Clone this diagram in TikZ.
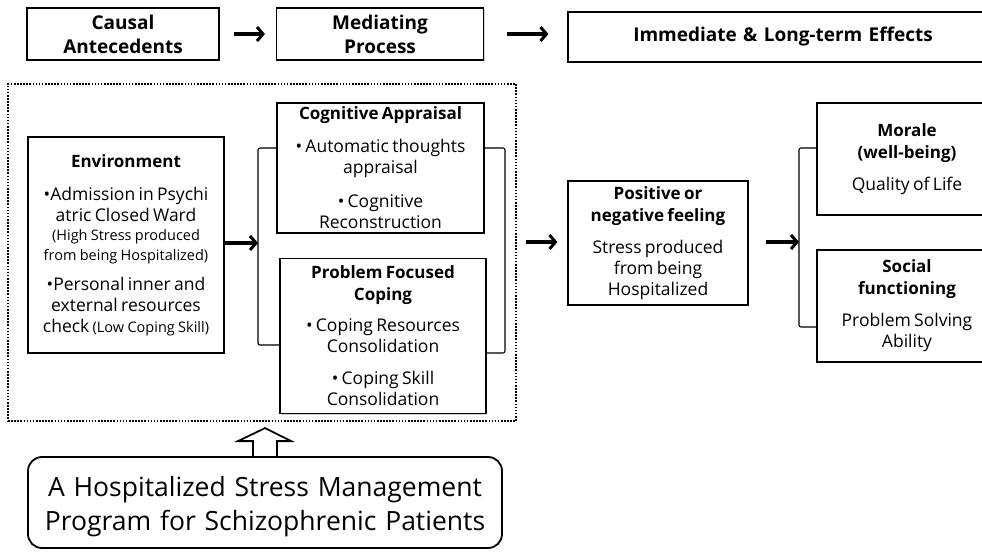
\documentclass[tikz,border=0pt]{standalone}
\usepackage{fontspec}
\setmainfont{Open Sans}
\usetikzlibrary{positioning}
\usetikzlibrary{arrows.meta}
\usetikzlibrary{shadows}
\usetikzlibrary{calc}
\setlength{\parindent}{0pt}

\newcommand{\headtxt}{\fontsize{19}{24}\bfseries\selectfont}
\newcommand{\titletxt}{\fontsize{17}{22}\bfseries\selectfont}
\newcommand{\bodytxt}{\fontsize{17.5}{21}\mdseries\selectfont}
\newcommand{\smalltxt}{\fontsize{14.5}{19.5}\mdseries\selectfont}
\newcommand{\progtxt}{\fontsize{26.5}{34}\selectfont\spaceskip=0.42em plus 0.1em}
\newcommand{\gap}[1]{\par\vspace{#1}}

\begin{document}
\begin{tikzpicture}[x=1pt, y=-1pt,
	box/.style={rectangle,draw,line width=1.1pt,fill=white,inner sep=2pt,align=center,
		drop shadow={shadow xshift=1.4pt,shadow yshift=-1.4pt,opacity=0.35}},
	arr/.style={line width=3.4pt,-{Straight Barb[length=6pt,width=14pt,line width=3pt]}},
	bracket/.style={line width=1.1pt,rounded corners=2pt}
	]
	\useasboundingbox (0,0) rectangle (982,553);

	% top row
	\node [box,text width=188pt,minimum height=52pt,font=\headtxt] (cause)	at (123,34)	{Causal\\ Antecedents};
	\node [box,text width=203pt,minimum height=52pt,font=\headtxt] (mediate)	at (380,34)	{Mediating\\ Process};
	\node [box,text width=426pt,minimum height=50pt,font=\headtxt] (effects)	at (783,37)	{Immediate \& Long-term Effects};

	% program frame
	\node [draw,line width=1.6pt,dash pattern=on 1.6pt off 1.5pt,inner sep=0pt,
		minimum width=508pt,minimum height=337pt] (frame) at (262,252.5) {};

	\node [box,text width=192pt,minimum height=216pt] (env) at (126,245)
		{\titletxt Environment\gap{12pt}\bodytxt •Admission in Psychi\\ atric Closed Ward\par
		\smalltxt (High Stress produced\\ from being Hospitalized)\gap{9pt}
		\bodytxt •Personal inner and\\ external resources\\ check {\smalltxt(Low Coping Skill)}\par};
	\node [box,text width=203pt,minimum height=130pt] (cog) at (380.5,168)
		{\titletxt Cognitive Appraisal\gap{12pt}\bodytxt • Automatic thoughts\\ appraisal\gap{13pt}
		• Cognitive\\ Reconstruction\par};
	\node [box,text width=202pt,minimum height=155pt] (cope) at (383,336)
		{\titletxt Problem Focused\\ Coping\gap{10pt}\bodytxt • Coping Resources\\ Consolidation\gap{11pt}
		• Coping Skill\\ Consolidation\par};

	% effects
	\node [box,text width=176pt,minimum height=124pt] (pos) at (658,243)
		{\titletxt Positive or\\ negative feeling\gap{11pt}\bodytxt Stress produced\\ from being\\ Hospitalized\par};
	\node [box,text width=176pt,minimum height=112pt] (morale) at (907,159)
		{\titletxt Morale\\ (well-being)\gap{11pt}\bodytxt Quality of Life\par};
	\node [box,text width=176pt,minimum height=112pt] (social) at (907,306)
		{\titletxt Social\\ functioning\gap{11pt}\bodytxt Problem Solving\\ Ability\par};

	% program
	\node [draw,line width=1.8pt,rounded corners=14pt,minimum width=474pt,minimum height=91pt] (prog) at (265,502.5) {};
	\node [text width=466pt,align=center,font=\progtxt] (progtext) at ([yshift=-4pt]prog.center)
		{A Hospitalized Stress Management\\ Program for Schizophrenic Patients\par};

	\coordinate (joinL) at (258,243);
	\coordinate (joinM) at (505,243);
	\coordinate (joinR) at (799,242);

	\draw [arr] ($(cause.east)+(14,0)$) to ($(mediate.west)+(-11,0)$);
	\draw [arr] ($(mediate.east)+(23,0)$) to ($(mediate.east -| effects.west)+(-19,0)$);

	\draw [bracket] ([yshift=20pt]cog.west) -| (joinL) |- ([yshift=-9pt]cope.west);
	\draw [bracket] ([yshift=20pt]cog.east) -| (joinM) |- ([yshift=-17pt]cope.east);
	\draw [bracket] ([yshift=11pt]morale.west) -| (joinR) |- ([yshift=-21pt]social.west);

	\draw [arr] (env.east |- joinL) to (joinL);
	\draw [arr] ($(frame.east |- pos.west)+(9,-1)$) to ($(pos.west)+(-10,-1)$);
	\draw [arr] ($(pos.east)+(17,-1)$) to (joinR);

	\draw [line width=1.8pt] ([xshift=-12pt]prog.north) -- ++(0,-15) -- ++(-15,0) -- ++(27,-13)
		-- ++(26,13) -- ++(-14,0) -- ([xshift=12pt]prog.north);

\end{tikzpicture}
\end{document}
